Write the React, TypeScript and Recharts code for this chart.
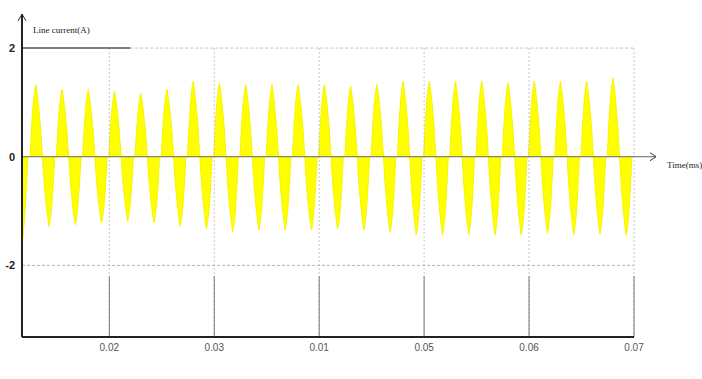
import React from "react";
import {
  ComposedChart,
  Area,
  XAxis,
  YAxis,
  ReferenceLine,
  ReferenceDot,
} from "recharts";

// time of each positive / negative current spike (s) and its height (A)
const posPeakTimes = [
  0.013, 0.0155, 0.018, 0.0205, 0.023, 0.0255, 0.028, 0.0305, 0.033, 0.0355,
  0.038, 0.0405, 0.043, 0.0455, 0.048, 0.0505, 0.053, 0.0555, 0.058, 0.0605,
  0.063, 0.0655, 0.068,
];
const posPeaks = [
  1.33, 1.24, 1.24, 1.2, 1.17, 1.24, 1.39, 1.36, 1.33, 1.33, 1.33, 1.33, 1.3,
  1.33, 1.39, 1.39, 1.39, 1.39, 1.36, 1.39, 1.39, 1.39, 1.45,
];
const negPeakTimes = [
  0.01425, 0.01675, 0.01925, 0.02175, 0.02425, 0.02675, 0.02925, 0.03175,
  0.03425, 0.03675, 0.03925, 0.04175, 0.04425, 0.04675, 0.04925, 0.05175,
  0.05425, 0.05675, 0.05925, 0.06175, 0.06425, 0.06675, 0.06925,
];
const negPeaks = [
  -1.28, -1.25, -1.22, -1.19, -1.22, -1.28, -1.33, -1.38, -1.35, -1.35, -1.35,
  -1.33, -1.35, -1.39, -1.44, -1.44, -1.44, -1.44, -1.44, -1.41, -1.44, -1.42,
  -1.45,
];

// shape of one spike: time offset from the tip, fraction of tip height
const pulseOffsets = [-0.00055, -0.0004, -0.00025, -0.0001, 0, 0.0001, 0.00025, 0.00045, 0.000625];
const pulseLevels = [0, 0.42, 0.74, 0.93, 1, 0.9, 0.72, 0.4, 0];

// start-up transient at the left edge
const startTimes = [0.01168, 0.0118, 0.012, 0.01225];
const startValues = [-1.62, -1.45, -0.9, 0];

const xTicks = [0.02, 0.03, 0.04, 0.05, 0.06, 0.07];
const xTickLabels = ["0.02", "0.03", "0.01", "0.05", "0.06", "0.07"];
const yTicks = [-2, 0, 2];

const X_MIN = 0.01168;
const X_MAX = 0.07;
const Y_MIN = -3.318;
const Y_MAX = 2.627;
const ARROW_X = 0.0721;

const buildData = () => {
  const rows: { t: number; i: number }[] = [];
  startTimes.forEach((t, k) => rows.push({ t, i: startValues[k] }));
  posPeakTimes.forEach((tp, k) => {
    pulseOffsets.forEach((o, j) =>
      rows.push({ t: tp + o, i: posPeaks[k] * pulseLevels[j] })
    );
    const tn = negPeakTimes[k];
    for (let j = pulseOffsets.length - 1; j >= 0; j--) {
      rows.push({ t: tn - pulseOffsets[j], i: negPeaks[k] * pulseLevels[j] });
    }
  });
  return rows;
};

const data = buildData();

const XArrow = (props: any) => {
  const { cx, cy } = props;
  return (
    <g>
      <polyline
        points={`${cx - 6},${cy - 4} ${cx},${cy} ${cx - 6},${cy + 4}`}
        fill="none"
        stroke="#333"
        strokeWidth={1}
      />
      <text
        x={cx + 11}
        y={cy + 11}
        fontSize={9}
        fontFamily="Liberation Serif"
        fill="#222"
      >
        Time(ms)
      </text>
    </g>
  );
};

const YArrow = (props: any) => {
  const { cx, cy } = props;
  return (
    <g>
      <polyline
        points={`${cx - 4},${cy + 7} ${cx},${cy} ${cx + 4},${cy + 7}`}
        fill="none"
        stroke="#333"
        strokeWidth={1}
      />
      <text
        x={cx + 11}
        y={cy + 19}
        fontSize={9}
        fontFamily="Liberation Serif"
        fill="#222"
      >
        Line current(A)
      </text>
    </g>
  );
};

const App = () => {
  return (
    <div style={{ position: "absolute", left: 0, top: 0, background: "#fff" }}>
      <ComposedChart
        width={702}
        height={379}
        data={data}
        margin={{ top: 14, right: 68, left: 0, bottom: 0 }}
      >
        <XAxis
          dataKey="t"
          type="number"
          domain={[X_MIN, X_MAX]}
          ticks={xTicks}
          tickFormatter={(v: number) => xTickLabels[xTicks.indexOf(v)] ?? ""}
          allowDataOverflow
          height={42}
          tickLine={false}
          tickSize={0}
          tickMargin={7}
          axisLine={{ stroke: "#222", strokeWidth: 2 }}
          tick={{ fontSize: 10, fill: "#555", fontFamily: "Liberation Sans" }}
        />
        <YAxis
          type="number"
          domain={[Y_MIN, Y_MAX]}
          ticks={yTicks}
          allowDataOverflow
          width={22}
          tickLine={false}
          tickSize={4}
          tickMargin={3}
          axisLine={{ stroke: "#222", strokeWidth: 2 }}
          tick={{
            fontSize: 11,
            fill: "#222",
            fontWeight: "bold",
            fontFamily: "Liberation Sans",
          }}
        />
        {xTicks.map((t) => (
          <ReferenceLine
            key={`g${t}`}
            segment={[
              { x: t, y: 2 },
              { x: t, y: Y_MIN },
            ]}
            stroke="#c4c4cc"
            strokeDasharray="2 2"
          />
        ))}
        {xTicks.map((t) => (
          <ReferenceLine
            key={`d${t}`}
            segment={[
              { x: t, y: -2.2 },
              { x: t, y: Y_MIN },
            ]}
            stroke="#777"
          />
        ))}
        <ReferenceLine
          segment={[
            { x: 0.022, y: 2 },
            { x: X_MAX, y: 2 },
          ]}
          stroke="#c4c4c4"
          strokeDasharray="3 2"
        />
        <ReferenceLine
          segment={[
            { x: X_MIN, y: 2 },
            { x: 0.022, y: 2 },
          ]}
          stroke="#555"
          strokeWidth={1.5}
        />
        <ReferenceLine
          segment={[
            { x: X_MIN, y: -2 },
            { x: X_MAX, y: -2 },
          ]}
          stroke="#b4b4b4"
          strokeDasharray="3 2"
        />
        <Area
          type="linear"
          dataKey="i"
          baseValue={0}
          stroke="#f6f600"
          strokeWidth={1}
          fill="#ffff00"
          fillOpacity={1}
          dot={false}
          activeDot={false}
          isAnimationActive={false}
        />
        <ReferenceLine
          segment={[
            { x: X_MIN, y: 0 },
            { x: ARROW_X, y: 0 },
          ]}
          ifOverflow="visible"
          stroke="#666"
          strokeWidth={1}
        />
        <ReferenceDot
          x={ARROW_X}
          y={0}
          ifOverflow="visible"
          shape={<XArrow />}
        />
        <ReferenceDot
          x={X_MIN}
          y={Y_MAX}
          ifOverflow="visible"
          shape={<YArrow />}
        />
      </ComposedChart>
    </div>
  );
};

export default App;
